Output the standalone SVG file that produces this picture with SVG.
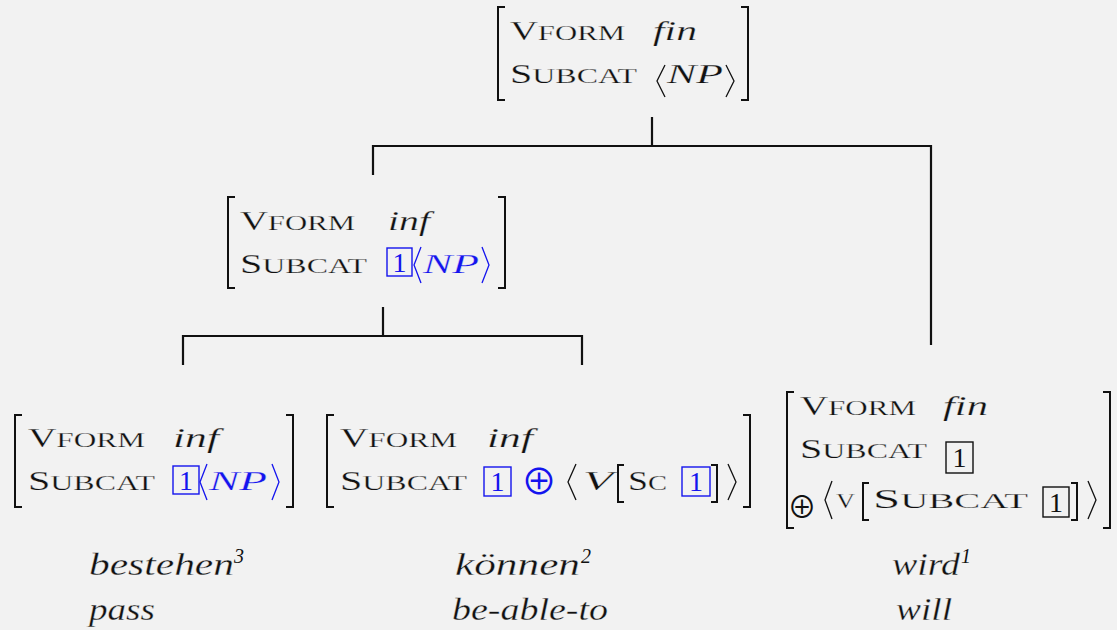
<svg xmlns="http://www.w3.org/2000/svg" width="1117" height="630" viewBox="0 0 1117 630">
  <style>
    .t { font-family: "Liberation Serif", "DejaVu Serif", serif; font-size: 27px; fill: #111; stroke: #f2f2f2; stroke-width: 0.25px; }
    .s { font-size: 21.5px; }
    .it { font-style: italic; }
    .lab { font-family: "Liberation Serif", "DejaVu Serif", serif; font-style: italic; font-size: 31px; fill: #111; stroke: #f2f2f2; stroke-width: 0.3px; }
    .sup { font-family: "Liberation Serif", "DejaVu Serif", serif; font-style: italic; font-size: 20px; fill: #111; }
    .num { font-family: "Liberation Serif", "DejaVu Serif", serif; font-size: 28px; text-anchor: middle; fill: #111; }
    .op { font-family: "Noto Sans CJK JP", "DejaVu Sans", sans-serif; text-anchor: middle; fill: #111; }
    .br { fill: none; stroke: #111; stroke-width: 2; }
    .ang { fill: none; stroke: #111; stroke-width: 1.3; stroke-linejoin: miter; }
    .box { fill: none; stroke: #111; stroke-width: 1.4; }
    .blue { fill: #1414ee; }
    .blue-s { stroke: #1414ee; }
    .edge { fill: none; stroke: #111; stroke-width: 2.2; }
  </style>
  <rect width="1117" height="630" fill="#f2f2f2"/>

  <!-- tree branches -->
  <g id="connectors">
    <path class="edge" d="M652,117 V146"/>
    <path class="edge" d="M373,175 V146 H931 V345"/>
    <path class="edge" d="M383,307 V336"/>
    <path class="edge" d="M183,365 V336 H582 V365"/>
  </g>

  <!-- root: finite verb phrase -->
  <g id="node-root">
    <path class="br" d="M505,7 H498 V100 H505"/>
    <path class="br" d="M741,7 H748 V100 H741"/>
    <text class="t" x="510" y="40" textLength="115" lengthAdjust="spacingAndGlyphs">V<tspan class="s">FORM</tspan></text>
    <text class="t it" x="653" y="40" textLength="44" lengthAdjust="spacingAndGlyphs">fin</text>
    <text class="t" x="510" y="83" textLength="127" lengthAdjust="spacingAndGlyphs">S<tspan class="s">UBCAT</tspan></text>
    <path class="ang" d="M665,65 L657,81 L665,97"/>
    <text class="t it" x="667" y="83" textLength="56" lengthAdjust="spacingAndGlyphs">NP</text>
    <path class="ang" d="M726,65 L734,81 L726,97"/>
  </g>

  <!-- verbal complex: infinitive -->
  <g id="node-verbal-complex">
    <path class="br" d="M235,197 H228 V288 H235"/>
    <path class="br" d="M498,197 H505 V288 H498"/>
    <text class="t" x="240" y="230" textLength="115" lengthAdjust="spacingAndGlyphs">V<tspan class="s">FORM</tspan></text>
    <text class="t it" x="388" y="230" textLength="42" lengthAdjust="spacingAndGlyphs">inf</text>
    <text class="t" x="240" y="273" textLength="127" lengthAdjust="spacingAndGlyphs">S<tspan class="s">UBCAT</tspan></text>
    <rect class="box blue-s" x="387" y="248" width="25" height="28"/>
    <text class="num blue" x="399.5" y="272">1</text>
    <path class="ang blue-s" d="M421,247 L414,265 L421,283"/>
    <text class="t it blue" x="423" y="273" textLength="56" lengthAdjust="spacingAndGlyphs">NP</text>
    <path class="ang blue-s" d="M482,247 L489,265 L482,283"/>
  </g>

  <!-- bestehen -->
  <g id="node-bestehen">
    <path class="br" d="M22,415 H15 V507 H22"/>
    <path class="br" d="M286,415 H293 V507 H286"/>
    <text class="t" x="28" y="447" textLength="117" lengthAdjust="spacingAndGlyphs">V<tspan class="s">FORM</tspan></text>
    <text class="t it" x="173" y="447" textLength="46" lengthAdjust="spacingAndGlyphs">inf</text>
    <text class="t" x="28" y="490" textLength="127" lengthAdjust="spacingAndGlyphs">S<tspan class="s">UBCAT</tspan></text>
    <rect class="box blue-s" x="173" y="466" width="26" height="28"/>
    <text class="num blue" x="186" y="490">1</text>
    <path class="ang blue-s" d="M207,464 L200,482 L207,500"/>
    <text class="t it blue" x="209" y="490" textLength="58" lengthAdjust="spacingAndGlyphs">NP</text>
    <path class="ang blue-s" d="M272,464 L279,482 L272,500"/>
    <text class="lab" x="89" y="575" textLength="145" lengthAdjust="spacingAndGlyphs">bestehen</text>
    <text class="sup" x="234" y="563">3</text>
    <text class="lab" x="89" y="620" textLength="66" lengthAdjust="spacingAndGlyphs">pass</text>
  </g>

  <!-- können -->
  <g id="node-koennen">
    <path class="br" d="M334,415 H327 V507 H334"/>
    <path class="br" d="M743,415 H750 V507 H743"/>
    <text class="t" x="340" y="447" textLength="117" lengthAdjust="spacingAndGlyphs">V<tspan class="s">FORM</tspan></text>
    <text class="t it" x="487" y="447" textLength="46" lengthAdjust="spacingAndGlyphs">inf</text>
    <text class="t" x="340" y="490" textLength="127" lengthAdjust="spacingAndGlyphs">S<tspan class="s">UBCAT</tspan></text>
    <rect class="box blue-s" x="484" y="467" width="27" height="29"/>
    <text class="num blue" x="497.5" y="491">1</text>
    <text class="op blue" x="539" y="495" font-size="36">⊕</text>
    <path class="ang" d="M576,464 L568,482 L576,500"/>
    <text class="t it" x="583" y="490" textLength="30" lengthAdjust="spacingAndGlyphs">V</text>
    <path class="br" d="M624,465 H618 V502 H624"/>
    <text class="t" x="628" y="490" textLength="39" lengthAdjust="spacingAndGlyphs">S<tspan class="s">C</tspan></text>
    <rect class="box blue-s" x="682" y="467" width="28" height="29"/>
    <text class="num blue" x="696" y="491">1</text>
    <path class="br" d="M711,465 H717 V502 H711"/>
    <path class="ang" d="M728,464 L736,482 L728,500"/>
    <text class="lab" x="455" y="575" textLength="125" lengthAdjust="spacingAndGlyphs">können</text>
    <text class="sup" x="581" y="563">2</text>
    <text class="lab" x="452" y="620" textLength="156" lengthAdjust="spacingAndGlyphs">be-able-to</text>
  </g>

  <!-- wird -->
  <g id="node-wird">
    <path class="br" d="M794,392 H787 V528 H794"/>
    <path class="br" d="M1103,392 H1110 V528 H1103"/>
    <text class="t" x="800" y="415" textLength="116" lengthAdjust="spacingAndGlyphs">V<tspan class="s">FORM</tspan></text>
    <text class="t it" x="943" y="415" textLength="45" lengthAdjust="spacingAndGlyphs">fin</text>
    <text class="t" x="800" y="458" textLength="127" lengthAdjust="spacingAndGlyphs">S<tspan class="s">UBCAT</tspan></text>
    <rect class="box" x="946" y="442" width="27" height="31"/>
    <text class="num" x="959.5" y="467">1</text>
    <text class="op" x="802" y="518" font-size="29">⊕</text>
    <path class="ang" d="M832,481 L825,500 L832,519"/>
    <text class="t s" x="836" y="508" textLength="19" lengthAdjust="spacingAndGlyphs">V</text>
    <path class="br" d="M869,483 H863 V520 H869"/>
    <text class="t" x="873" y="508" textLength="155" lengthAdjust="spacingAndGlyphs">S<tspan class="s">UBCAT</tspan></text>
    <rect class="box" x="1043" y="487" width="26" height="30"/>
    <text class="num" x="1056" y="512">1</text>
    <path class="br" d="M1071,483 H1077 V520 H1071"/>
    <path class="ang" d="M1088,481 L1096,500 L1088,519"/>
    <text class="lab" x="892" y="575" textLength="68" lengthAdjust="spacingAndGlyphs">wird</text>
    <text class="sup" x="961" y="563">1</text>
    <text class="lab" x="896" y="620" textLength="56" lengthAdjust="spacingAndGlyphs">will</text>
  </g>
</svg>
